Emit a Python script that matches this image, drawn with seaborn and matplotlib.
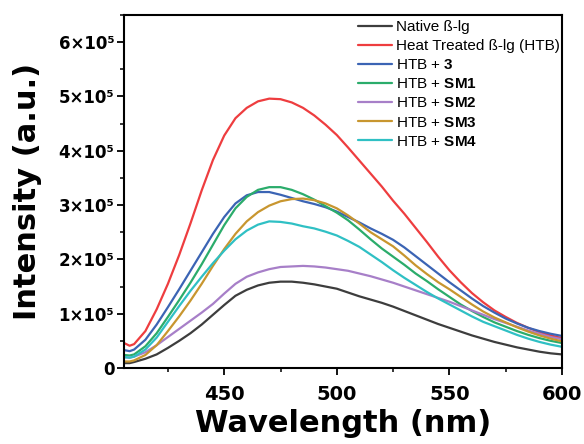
import numpy as np
import pandas as pd
import matplotlib
matplotlib.use("Agg")
import matplotlib.pyplot as plt
import seaborn as sns
from matplotlib.ticker import MultipleLocator, FixedLocator

# ---- data (intensity in units of 1e5) ----
wavelength = [405.5, 408, 410, 415, 420, 425, 430, 435, 440, 445, 450, 455, 460, 465,
              470, 475, 480, 485, 490, 495, 500, 505, 510, 515, 520, 525, 530, 535,
              540, 545, 550, 555, 560, 565, 570, 575, 580, 585, 590, 595, 600]

native = [0.09, 0.09, 0.11, 0.17, 0.25, 0.37, 0.50, 0.64, 0.80, 0.98, 1.16, 1.33, 1.44, 1.52,
          1.57, 1.59, 1.59, 1.57, 1.54, 1.50, 1.46, 1.39, 1.32, 1.26, 1.20, 1.13, 1.05, 0.97,
          0.89, 0.81, 0.74, 0.67, 0.60, 0.54, 0.48, 0.43, 0.38, 0.34, 0.30, 0.27, 0.25]
htb = [0.46, 0.41, 0.44, 0.68, 1.08, 1.55, 2.08, 2.66, 3.27, 3.83, 4.28, 4.60, 4.79, 4.91,
       4.96, 4.95, 4.89, 4.79, 4.65, 4.48, 4.29, 4.06, 3.82, 3.58, 3.34, 3.08, 2.84, 2.58,
       2.32, 2.05, 1.80, 1.58, 1.38, 1.21, 1.06, 0.94, 0.83, 0.74, 0.66, 0.60, 0.55]
htb_3 = [0.33, 0.31, 0.34, 0.52, 0.80, 1.12, 1.45, 1.79, 2.13, 2.47, 2.78, 3.03, 3.18, 3.24,
         3.24, 3.19, 3.13, 3.07, 3.02, 2.96, 2.88, 2.78, 2.68, 2.57, 2.47, 2.36, 2.22, 2.06,
         1.90, 1.74, 1.58, 1.43, 1.28, 1.14, 1.02, 0.91, 0.82, 0.74, 0.68, 0.63, 0.59]
htb_sm1 = [0.24, 0.23, 0.25, 0.40, 0.64, 0.94, 1.25, 1.57, 1.91, 2.27, 2.63, 2.94, 3.15, 3.28,
           3.33, 3.33, 3.28, 3.20, 3.10, 2.98, 2.86, 2.72, 2.55, 2.37, 2.20, 2.05, 1.90, 1.74,
           1.60, 1.45, 1.31, 1.17, 1.05, 0.94, 0.84, 0.76, 0.68, 0.61, 0.55, 0.50, 0.46]
htb_sm2 = [0.20, 0.19, 0.21, 0.29, 0.42, 0.57, 0.72, 0.87, 1.02, 1.18, 1.37, 1.55, 1.68, 1.76,
           1.82, 1.86, 1.87, 1.88, 1.87, 1.85, 1.82, 1.79, 1.74, 1.69, 1.63, 1.57, 1.50, 1.43,
           1.36, 1.29, 1.22, 1.14, 1.06, 0.98, 0.90, 0.83, 0.76, 0.69, 0.63, 0.57, 0.53]
htb_sm3 = [0.12, 0.12, 0.14, 0.24, 0.42, 0.68, 0.95, 1.24, 1.55, 1.88, 2.19, 2.47, 2.70, 2.87,
           2.99, 3.07, 3.11, 3.12, 3.09, 3.03, 2.94, 2.81, 2.66, 2.50, 2.37, 2.24, 2.07, 1.89,
           1.73, 1.58, 1.45, 1.31, 1.17, 1.04, 0.93, 0.84, 0.75, 0.67, 0.60, 0.54, 0.49]
htb_sm4 = [0.20, 0.19, 0.21, 0.34, 0.56, 0.85, 1.14, 1.42, 1.68, 1.93, 2.16, 2.37, 2.53, 2.64,
           2.70, 2.69, 2.66, 2.61, 2.57, 2.51, 2.44, 2.34, 2.23, 2.09, 1.95, 1.80, 1.66, 1.53,
           1.40, 1.28, 1.17, 1.06, 0.95, 0.85, 0.77, 0.69, 0.61, 0.54, 0.48, 0.43, 0.39]

series_names = ["Native ß-lg", "Heat Treated ß-lg (HTB)", "HTB + 3", "HTB + SM1",
                "HTB + SM2", "HTB + SM3", "HTB + SM4"]
legend_labels = ["Native ß-lg", "Heat Treated ß-lg (HTB)", r"HTB + $\mathbf{3}$",
                 r"HTB + $\mathbf{SM1}$", r"HTB + $\mathbf{SM2}$", r"HTB + $\mathbf{SM3}$",
                 r"HTB + $\mathbf{SM4}$"]
series_values = [native, htb, htb_3, htb_sm1, htb_sm2, htb_sm3, htb_sm4]
colors = ["#3d3d3d", "#ee3d3f", "#3b64b4", "#2bac6b", "#a77fc8", "#c8962f", "#2fc0c4"]

y_ticks = [0, 1, 2, 3, 4, 5, 6]
y_tick_labels = ["0", "1×10⁵", "2×10⁵", "3×10⁵", "4×10⁵", "5×10⁵", "6×10⁵"]
x_ticks = [450, 500, 550, 600]

SCALE = 1e5

rows = []
for name, vals in zip(series_names, series_values):
    for w, v in zip(wavelength, vals):
        rows.append((name, w, v * SCALE))
df = pd.DataFrame(rows, columns=["series", "wavelength", "intensity"])

sns.set_style("ticks")
plt.rcParams["font.family"] = ["DejaVu Sans"]
plt.rcParams["mathtext.fontset"] = "custom"
plt.rcParams["mathtext.rm"] = "Liberation Sans"
plt.rcParams["mathtext.bf"] = "Liberation Sans:bold"
plt.rcParams["text.color"] = "black"
plt.rcParams["axes.labelcolor"] = "black"
plt.rcParams["xtick.color"] = "black"
plt.rcParams["ytick.color"] = "black"
plt.rcParams["xtick.labelcolor"] = "black"
plt.rcParams["ytick.labelcolor"] = "black"

fig = plt.figure(figsize=(5.84, 4.44), dpi=100)
ax = fig.add_axes([124 / 584, 1 - 368 / 444, (562 - 124) / 584, (368 - 15) / 444])

sns.lineplot(data=df, x="wavelength", y="intensity", hue="series",
             hue_order=series_names, palette=colors, estimator=None, sort=False,
             linewidth=1.6, ax=ax, legend=False)

ax.set_xlim(405.5, 600)
ax.set_ylim(0, 6.5 * SCALE)

ax.xaxis.set_major_locator(FixedLocator(x_ticks))
ax.xaxis.set_minor_locator(MultipleLocator(25))
ax.yaxis.set_major_locator(FixedLocator([t * SCALE for t in y_ticks]))
ax.yaxis.set_minor_locator(MultipleLocator(0.5 * SCALE))
ax.set_yticklabels(y_tick_labels)

for sp in ax.spines.values():
    sp.set_visible(True)
    sp.set_linewidth(1.5)
    sp.set_color("black")

ax.tick_params(axis="both", which="major", direction="out", length=5, width=1.3,
               top=False, right=False, color="black", labelcolor="black")
ax.tick_params(axis="both", which="minor", direction="out", length=3, width=1.1,
               top=False, right=False, color="black")
ax.tick_params(axis="x", which="major", labelsize=14, pad=7)
ax.tick_params(axis="y", which="major", labelsize=12, pad=2)
for lab in ax.get_xticklabels() + ax.get_yticklabels():
    lab.set_fontweight("bold")

ax.set_xlabel("Wavelength (nm)", fontsize=22, fontweight="bold", labelpad=4, color="black")
ax.set_ylabel("Intensity (a.u.)", fontsize=22, fontweight="bold", labelpad=12, color="black")

handles = [plt.Line2D([], [], color=c, linewidth=1.6) for c in colors]
leg = ax.legend(handles, legend_labels, loc="upper left",
                bbox_to_anchor=((358 - 124) / 438, 0.985), frameon=False,
                prop={"family": "Liberation Sans", "size": 11},
                handlelength=2.2, handletextpad=0.3, labelspacing=0.33,
                borderpad=0, borderaxespad=0)
for t in leg.get_texts():
    t.set_color("black")

fig.savefig("out.png", dpi=100)
